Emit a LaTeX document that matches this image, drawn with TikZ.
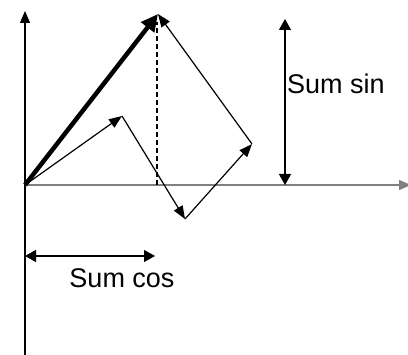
\documentclass[tikz,border=0pt]{standalone}
\usepackage{fontspec}
\setmainfont{Liberation Sans}
\usetikzlibrary{arrows.meta}

\tikzset{
    vec/.style={line width=1.2pt, -{Triangle[length=13pt, width=10pt]}},
    sumvec/.style={line width=4.5pt, -{Triangle[length=17pt, width=16pt]}},
    span/.style={line width=1.2pt, {Triangle[length=11pt, width=12pt]}-{Triangle[length=11pt, width=12pt]}},
    lbl/.style={font=\fontsize{27}{31}\selectfont, inner sep=0pt}
}

\begin{document}
\begin{tikzpicture}[x=1pt, y=-1pt]
    \useasboundingbox (0,0) rectangle (408,355);

    % Axes
    \coordinate (O) at (25,185);
    \coordinate (ybot) at (25,356);
    \coordinate (ytop) at (25,11);
    \coordinate (xend) at (411,185);
    \draw[line width=1.2pt, -{Triangle[length=12pt, width=10pt]}] (ybot) -- (ytop);
    \draw[line width=1.4pt, gray, -{Triangle[length=12pt, width=10pt]}] (O) -- (xend);

    % Chain of vectors
    \coordinate (p1) at (122,116);
    \coordinate (p2) at (185,219);
    \coordinate (p3) at (252,144);
    \coordinate (p4) at (158,14);
    \draw[vec] (O) -- (p1);
    \draw[vec] (p1) -- (p2);
    \draw[vec] (p2) -- (p3);
    \draw[vec] (p3) -- (p4);

    % Resultant
    \draw[sumvec] (O) -- (p4);
    \coordinate (foot) at (157,185);
    \draw[line width=1.8pt, dash pattern=on 5pt off 3pt] (foot) -- (157,22);

    % Sum sin
    \coordinate (sinb) at (285,185);
    \coordinate (sint) at (285,19);
    \draw[span] (sinb) -- (sint);
    \node[lbl, anchor=west] (sumsin) at (287,84) {Sum sin};

    % Sum cos
    \coordinate (cosl) at (25,256);
    \coordinate (cosr) at (155,256);
    \draw[span] (cosl) -- (cosr);
    \node[lbl] (sumcos) at (122,278) {Sum cos};
\end{tikzpicture}
\end{document}
